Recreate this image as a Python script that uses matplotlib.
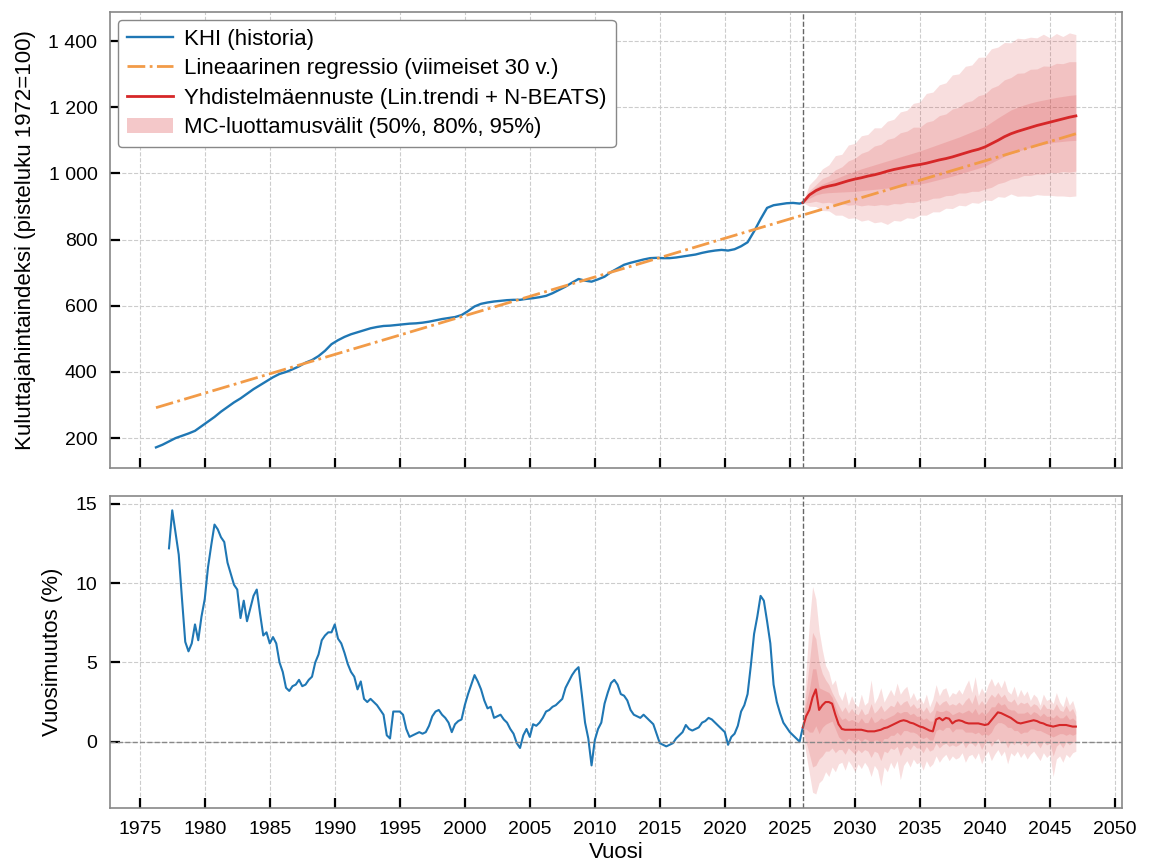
import numpy as np
import matplotlib
matplotlib.use("Agg")
import matplotlib.pyplot as plt
from matplotlib.patches import Patch
from matplotlib.ticker import FuncFormatter, MultipleLocator

plt.rcParams["font.family"] = ["Liberation Sans", "DejaVu Sans"]

# --- history: consumer price index (1972=100), half-yearly ---
hist_years = np.r_[np.arange(1976.25, 2025.8, 0.5), 2026.0]
hist_index = [
    172, 180, 190, 200, 207, 214, 222, 236, 250, 264,
    280, 294, 308, 320, 334, 348, 360, 372, 384, 394,
    400, 408, 417, 428, 436, 448, 464, 484, 496, 506,
    514, 520, 526, 532, 536, 539, 540, 542, 544, 546,
    547, 549, 552, 556, 560, 563, 566, 572, 584, 598,
    606, 610, 613, 615, 617, 618, 618, 621, 623, 626,
    630, 638, 648, 658, 670, 681, 676, 673, 680, 688,
    702, 713, 724, 730, 735, 740, 744, 745, 744, 744,
    746, 749, 752, 755, 760, 764, 767, 769, 767, 771,
    780, 792, 825, 862, 896, 904, 907, 910, 911, 909,
    912,
]

# --- history: annual change (%), quarterly ---
yoy_years = np.arange(1977.25, 2026.01, 0.25)
yoy_hist = [
    12.2, 14.6, 13.2,
    11.8, 9.0, 6.3, 5.7,
    6.2, 7.4, 6.4, 7.9,
    9.0, 11.0, 12.4, 13.7,
    13.4, 12.9, 12.6, 11.3,
    10.6, 9.9, 9.6, 7.8,
    8.9, 7.6, 8.4, 9.2,
    9.6, 8.1, 6.7, 6.9,
    6.2, 6.6, 6.2, 5.0,
    4.4, 3.4, 3.2, 3.5,
    3.6, 3.9, 3.5, 3.6,
    3.9, 4.1, 5.0, 5.5,
    6.4, 6.7, 6.9, 6.9,
    7.4, 6.5, 6.2, 5.6,
    4.9, 4.4, 4.1, 3.3,
    3.8, 2.7, 2.5, 2.7,
    2.5, 2.3, 2.0, 1.7,
    0.4, 0.2, 1.9, 1.9,
    1.9, 1.7, 0.8, 0.3,
    0.4, 0.5, 0.6, 0.5,
    0.6, 1.0, 1.6, 1.9,
    2.0, 1.7, 1.5, 1.2,
    0.6, 1.1, 1.3, 1.4,
    2.3, 3.0, 3.6, 4.2,
    3.8, 3.3, 2.6, 2.1,
    2.2, 1.5, 1.6, 1.7,
    1.4, 1.2, 0.8, 0.5,
    -0.1, -0.4, 0.4, 0.8,
    0.3, 1.1, 1.0, 1.2,
    1.5, 1.9, 2.0, 2.2,
    2.3, 2.5, 2.7, 3.4,
    3.8, 4.2, 4.5, 4.7,
    3.0, 1.2, 0.2, -1.5,
    0.1, 0.8, 1.2, 2.4,
    3.1, 3.7, 3.9, 3.6,
    3.0, 2.9, 2.6, 2.0,
    1.7, 1.6, 1.5, 1.7,
    1.5, 1.3, 1.1, 0.5,
    -0.1, -0.2, -0.3, -0.2,
    -0.1, 0.2, 0.4, 0.6,
    1.05, 0.8, 0.7, 0.8,
    0.9, 1.2, 1.3, 1.5,
    1.4, 1.2, 1.0, 0.8,
    0.6, -0.2, 0.3, 0.5,
    1.0, 1.9, 2.3, 3.0,
    4.8, 6.8, 7.9, 9.2,
    8.9, 7.6, 6.2, 3.6,
    2.5, 1.8, 1.2, 0.9,
    0.6, 0.4, 0.2, 0.0,
    0.9,
]

# --- linear regression on the last 30 years, endpoints ---
reg_years = [1976.25, 2047.0]
reg_index = [292, 1120]

# --- combined forecast of the index, half-yearly, with MC intervals ---
fc_years = np.arange(2026.0, 2047.01, 0.5)
fc_index = [
    912, 935, 948, 957, 962, 966, 972, 978, 983, 987,
    992, 996, 1001, 1007, 1012, 1016, 1020, 1024, 1027, 1031,
    1036, 1041, 1045, 1050, 1056, 1062, 1068, 1073, 1080, 1090,
    1100, 1111, 1120, 1127, 1133, 1139, 1145, 1150, 1155, 1160,
    1165, 1170, 1174,
]
fc_hi95 = [
    912, 966, 986, 1014, 1026, 1054, 1058, 1086, 1091, 1114,
    1118, 1138, 1138, 1158, 1164, 1186, 1191, 1212, 1216, 1242,
    1246, 1268, 1274, 1298, 1301, 1324, 1328, 1351, 1352, 1377,
    1382, 1396, 1395, 1409, 1407, 1412, 1410, 1421, 1410, 1423,
    1414, 1425, 1420,
]
fc_lo95 = [
    912, 901, 900, 888, 887, 874, 874, 864, 866, 856,
    860, 851, 854, 846, 858, 856, 866, 864, 874, 874,
    884, 884, 895, 894, 904, 902, 912, 910, 920, 918,
    930, 928, 938, 931, 932, 931, 936, 934, 934, 932,
    932, 930, 932,
]
fc_hi80 = [
    912, 948, 966, 985, 993, 1011, 1020, 1038, 1046, 1061,
    1068, 1083, 1088, 1103, 1108, 1123, 1128, 1140, 1140, 1155,
    1160, 1175, 1180, 1195, 1200, 1215, 1220, 1235, 1240, 1258,
    1266, 1283, 1290, 1303, 1304, 1315, 1316, 1325, 1324, 1333,
    1332, 1338, 1338,
]
fc_lo80 = [
    912, 912, 916, 911, 913, 908, 909, 904, 906, 902,
    905, 903, 906, 904, 909, 908, 913, 912, 917, 918,
    925, 926, 933, 934, 941, 941, 946, 946, 953, 958,
    969, 974, 983, 986, 994, 994, 999, 998, 1003, 1002,
    1006, 1004, 1007,
]
fc_hi50 = [
    912, 940, 958, 968, 976, 984, 992, 1000, 1007, 1014,
    1020, 1026, 1032, 1038, 1044, 1050, 1056, 1062, 1068, 1075,
    1082, 1089, 1096, 1103, 1110, 1118, 1126, 1134, 1142, 1155,
    1168, 1180, 1192, 1200, 1207, 1213, 1218, 1222, 1226, 1230,
    1233, 1236, 1238,
]
fc_lo50 = [
    912, 925, 935, 940, 942, 943, 944, 945, 946, 948,
    950, 952, 954, 956, 958, 960, 963, 966, 968, 972,
    977, 982, 987, 992, 998, 1004, 1010, 1016, 1022, 1032,
    1042, 1052, 1060, 1067, 1073, 1079, 1084, 1088, 1092, 1095,
    1097, 1099, 1100,
]

# --- forecast annual change (%), quarterly, with MC intervals ---
fq_years = np.arange(2026.0, 2047.01, 0.25)
yoy_fc = [
    0.9, 1.6, 2.0, 2.8, 3.3, 2.0, 2.3, 2.5, 2.5, 2.4, 1.7, 1.1,
    0.8, 0.75, 0.75, 0.75, 0.75, 0.75, 0.75, 0.7, 0.65, 0.65, 0.65, 0.7,
    0.75, 0.85, 0.9, 1.0, 1.1, 1.2, 1.3, 1.35, 1.3, 1.2, 1.15, 1.05,
    0.95, 0.9, 0.8, 0.7, 0.65, 1.4, 1.5, 1.35, 1.5, 1.45, 1.15, 1.3,
    1.35, 1.3, 1.2, 1.15, 1.15, 1.15, 1.15, 1.1, 1.05, 1.1, 1.35, 1.6,
    1.85, 1.8, 1.7, 1.6, 1.5, 1.35, 1.2, 1.15, 1.2, 1.25, 1.3, 1.35,
    1.3, 1.2, 1.15, 1.05, 1.0, 0.95, 1.0, 1.05, 1.05, 1.05, 1.0, 0.95,
    0.95,
]
yoy_hi95 = [
    1.2, 4.5, 7.5, 9.8, 9.0, 7.0, 5.8, 4.8, 4.4, 3.6, 3.9, 3.0,
    2.6, 3.2, 2.3, 2.9, 2.4, 2.2, 3.0, 2.3, 2.5, 3.9, 2.4, 2.8,
    3.4, 2.5, 2.9, 3.3, 2.9, 3.7, 3.0, 3.3, 3.5, 2.7, 3.1, 2.6,
    2.8, 2.4, 3.0, 2.2, 2.7, 3.6, 2.9, 3.3, 3.4, 2.8, 3.1, 3.0,
    3.3, 3.0, 3.5, 3.9, 3.1, 4.1, 2.9, 3.4, 3.0, 3.6, 4.0, 3.5,
    3.8, 3.4, 3.9, 3.2, 3.0, 3.5, 2.8, 3.3, 2.9, 3.2, 2.6, 3.0,
    2.8, 2.3, 3.0, 2.6, 2.7, 2.4, 3.1, 2.5, 2.2, 2.9, 2.3, 2.6,
    1.9,
]
yoy_lo95 = [
    0.6, -0.8, -2.0, -3.2, -3.3, -2.6, -2.4, -1.9, -2.2, -1.6, -1.9, -1.4,
    -1.3, -1.8, -1.2, -1.5, -1.9, -1.4, -1.7, -1.3, -1.6, -2.2, -1.5, -1.8,
    -2.8, -1.6, -1.9, -1.3, -1.7, -1.2, -2.4, -1.5, -1.2, -1.6, -1.1, -1.4,
    -1.3, -1.8, -1.2, -1.6, -1.4, -0.9, -1.3, -1.0, -0.8, -1.2, -0.9, -1.1,
    -1.0, -0.7, -1.3, -0.9, -0.8, -1.1, -0.7, -1.4, -0.9, -0.6, -1.2, -0.8,
    -0.5, -0.9, -0.6, -1.4, -0.7, -0.9, -0.6, -1.0, -0.7, -1.1, -0.8, -0.6,
    -0.9, -1.2, -0.7, -1.0, -0.8, -2.2, -1.1, -0.9, -1.3, -0.8, -1.0, -0.7,
    -0.6,
]
yoy_hi80 = [
    1.1, 3.2, 5.0, 6.9, 6.5, 5.0, 4.3, 3.9, 3.6, 3.1, 2.7, 2.3,
    1.9, 2.2, 1.8, 2.1, 1.8, 1.7, 2.1, 1.7, 1.8, 2.4, 1.8, 2.0,
    2.3, 1.9, 2.1, 2.3, 2.2, 2.6, 2.3, 2.5, 2.6, 2.2, 2.4, 2.1,
    2.2, 1.9, 2.2, 1.8, 2.0, 2.6, 2.3, 2.5, 2.6, 2.3, 2.4, 2.3,
    2.5, 2.3, 2.6, 2.8, 2.4, 3.0, 2.3, 2.6, 2.3, 2.7, 3.0, 2.8,
    3.1, 2.8, 3.0, 2.6, 2.5, 2.7, 2.3, 2.5, 2.4, 2.5, 2.2, 2.4,
    2.3, 2.0, 2.4, 2.1, 2.1, 2.0, 2.4, 2.0, 1.9, 2.3, 1.9, 2.1,
    1.6,
]
yoy_lo80 = [
    0.7, 0.0, -0.8, -1.6, -1.5, -1.1, -0.9, -0.6, -0.6, -0.4, -0.7, -0.5,
    -0.5, -0.8, -0.4, -0.6, -0.8, -0.5, -0.7, -0.5, -0.6, -1.0, -0.6, -0.7,
    -1.2, -0.6, -0.7, -0.4, -0.5, -0.3, -0.9, -0.4, -0.3, -0.5, -0.2, -0.4,
    -0.4, -0.7, -0.3, -0.6, -0.5, -0.1, -0.4, -0.2, -0.1, -0.3, -0.2, -0.3,
    -0.2, 0.0, -0.4, -0.1, -0.1, -0.3, 0.0, -0.5, -0.1, 0.1, -0.3, 0.0,
    0.2, -0.1, 0.1, -0.4, 0.0, -0.2, 0.1, -0.2, 0.0, -0.3, -0.1, 0.1,
    -0.1, -0.4, 0.0, -0.2, -0.1, -0.9, -0.3, -0.1, -0.4, 0.0, -0.2, 0.0,
    0.0,
]
yoy_hi50 = [
    1.0, 2.4, 3.3, 4.6, 4.6, 3.4, 3.3, 3.2, 3.1, 2.8, 2.2, 1.7,
    1.4, 1.5, 1.3, 1.4, 1.3, 1.2, 1.5, 1.2, 1.2, 1.6, 1.2, 1.3,
    1.5, 1.4, 1.5, 1.6, 1.7, 1.9, 1.8, 1.9, 1.9, 1.7, 1.8, 1.6,
    1.6, 1.4, 1.5, 1.3, 1.3, 2.0, 1.9, 1.9, 2.0, 1.9, 1.7, 1.8,
    1.9, 1.8, 1.9, 2.0, 1.8, 2.1, 1.7, 1.9, 1.7, 1.9, 2.2, 2.2,
    2.5, 2.3, 2.4, 2.1, 2.0, 2.0, 1.8, 1.8, 1.8, 1.9, 1.7, 1.9,
    1.8, 1.6, 1.8, 1.6, 1.6, 1.5, 1.7, 1.5, 1.5, 1.7, 1.4, 1.5,
    1.3,
]
yoy_lo50 = [
    0.8, 0.8, 0.6, 0.6, 1.0, 0.5, 0.9, 1.1, 1.2, 1.3, 0.8, 0.3,
    0.1, 0.0, 0.2, 0.1, 0.1, 0.2, 0.0, 0.2, 0.1, -0.1, 0.1, 0.1,
    -0.1, 0.2, 0.2, 0.4, 0.4, 0.6, 0.4, 0.7, 0.7, 0.6, 0.6, 0.5,
    0.3, 0.2, 0.3, 0.1, 0.1, 0.7, 0.8, 0.7, 0.9, 0.9, 0.6, 0.8,
    0.8, 0.8, 0.6, 0.6, 0.6, 0.5, 0.6, 0.4, 0.5, 0.4, 0.6, 1.0,
    1.2, 1.2, 1.1, 0.9, 0.9, 0.7, 0.7, 0.5, 0.6, 0.6, 0.8, 0.8,
    0.7, 0.7, 0.6, 0.5, 0.4, 0.3, 0.4, 0.5, 0.5, 0.4, 0.5, 0.4,
    0.5,
]

forecast_start = 2026.05

c_hist = "#1f77b4"
c_reg = "#f29b48"
c_fc = "#d62728"
band_alpha = 0.15

fig, (ax1, ax2) = plt.subplots(
    2, 1, figsize=(11.53, 8.68), dpi=100, sharex=True,
    gridspec_kw={"height_ratios": [456, 312]},
)
fig.subplots_adjust(left=0.0954, right=0.973, top=0.986, bottom=0.069, hspace=0.073)

# top panel: index level
ax1.fill_between(fc_years, fc_lo95, fc_hi95, color=c_fc, alpha=band_alpha, lw=0)
ax1.fill_between(fc_years, fc_lo80, fc_hi80, color=c_fc, alpha=band_alpha, lw=0)
ax1.fill_between(fc_years, fc_lo50, fc_hi50, color=c_fc, alpha=band_alpha, lw=0)
ax1.plot(hist_years, hist_index, color=c_hist, lw=1.7, label="KHI (historia)")
ax1.plot(reg_years, reg_index, color=c_reg, lw=2.0, ls="-.",
         label="Lineaarinen regressio (viimeiset 30 v.)")
ax1.plot(fc_years, fc_index, color=c_fc, lw=2.0,
         label="Yhdistelmäennuste (Lin.trendi + N-BEATS)")
ax1.axvline(forecast_start, color="#666666", ls="--", lw=1.0)
ax1.set_ylabel("Kuluttajahintaindeksi (pisteluku 1972=100)", fontsize=16, labelpad=9)
ax1.yaxis.set_major_locator(MultipleLocator(200))
ax1.yaxis.set_major_formatter(FuncFormatter(lambda v, p: f"{v:,.0f}".replace(",", " ")))

handles, labels = ax1.get_legend_handles_labels()
handles.append(Patch(facecolor=c_fc, alpha=0.25, edgecolor="none"))
labels.append("MC-luottamusvälit (50%, 80%, 95%)")
leg = ax1.legend(handles, labels, loc="upper left", fontsize=16, handlelength=2.1,
                 handletextpad=0.5, labelspacing=0.38, borderpad=0.4,
                 borderaxespad=0.35, framealpha=1, edgecolor="#888888", fancybox=True)
leg.get_frame().set_linewidth(1.0)

# bottom panel: annual change
ax2.fill_between(fq_years, yoy_lo95, yoy_hi95, color=c_fc, alpha=band_alpha, lw=0)
ax2.fill_between(fq_years, yoy_lo80, yoy_hi80, color=c_fc, alpha=band_alpha, lw=0)
ax2.fill_between(fq_years, yoy_lo50, yoy_hi50, color=c_fc, alpha=band_alpha, lw=0)
ax2.plot(yoy_years, yoy_hist, color=c_hist, lw=1.5)
ax2.plot(fq_years, yoy_fc, color=c_fc, lw=1.5)
ax2.axhline(0, color="#888888", ls="--", lw=1.0)
ax2.axvline(forecast_start, color="#666666", ls="--", lw=1.0)
ax2.set_ylabel("Vuosimuutos (%)", fontsize=16, labelpad=9)
ax2.set_xlabel("Vuosi", fontsize=16, labelpad=3)
ax2.yaxis.set_major_locator(MultipleLocator(5))
ax2.xaxis.set_major_locator(MultipleLocator(5))

for ax in (ax1, ax2):
    ax.grid(True, ls="--", color="#cccccc", lw=0.8)
    ax.set_axisbelow(True)
    for s in ax.spines.values():
        s.set_color("#888888")
        s.set_linewidth(1.2)
    ax.tick_params(direction="in", length=7, width=1.6, color="black",
                   labelsize=14, pad=9)
ax1.tick_params(labelbottom=False)

fig.savefig("out.png", dpi=100)
